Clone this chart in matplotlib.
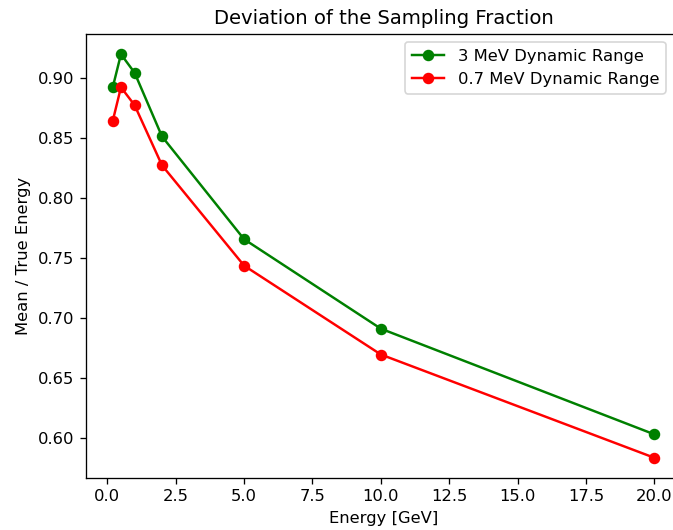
import matplotlib
matplotlib.use("Agg")
import matplotlib.pyplot as plt

energy = [0.2, 0.5, 1, 2, 5, 10, 20]
ratio_3mev = [0.892, 0.9195, 0.904, 0.851, 0.7655, 0.691, 0.603]
ratio_07mev = [0.864, 0.892, 0.877, 0.827, 0.7435, 0.6695, 0.5835]

dpi = 118
fig = plt.figure(figsize=(673 / dpi, 530 / dpi), dpi=dpi)
ax = fig.add_axes([0.1273, 0.0981, 0.8854, 0.8377])

ax.plot(energy, ratio_3mev, "o-", color="green", label="3 MeV Dynamic Range")
ax.plot(energy, ratio_07mev, "o-", color="red", label="0.7 MeV Dynamic Range")
ax.set_title("Deviation of the Sampling Fraction")
ax.set_xlabel("Energy [GeV]")
ax.set_ylabel("Mean / True Energy")
ax.legend(loc="upper right", bbox_to_anchor=(0.987, 1.0))

fig.savefig("out.png", dpi=dpi)
